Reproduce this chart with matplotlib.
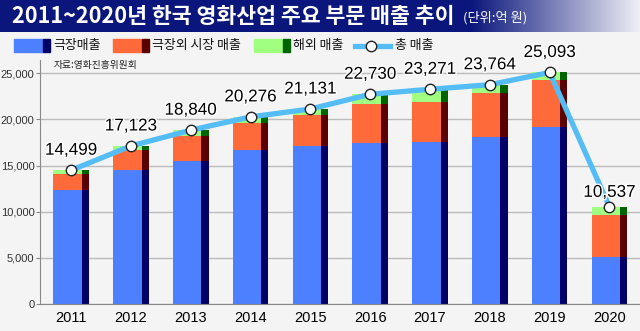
import matplotlib
matplotlib.use("Agg")
import matplotlib.pyplot as plt
import matplotlib.patheffects as pe
import numpy as np
from matplotlib.patches import Rectangle
from matplotlib.lines import Line2D

# data (억 원)
years = ["2011", "2012", "2013", "2014", "2015", "2016", "2017", "2018", "2019", "2020"]
theater = [12358, 14551, 15513, 16641, 17154, 17432, 17566, 18140, 19140, 5104]
non_theater = [1709, 2109, 2676, 2971, 3349, 4226, 4348, 4738, 5093, 4593]
overseas = [432, 463, 651, 664, 628, 1072, 1357, 886, 860, 840]
total = [14499, 17123, 18840, 20276, 21131, 22730, 23271, 23764, 25093, 10537]

legend_names = ["극장매출", "극장외 시장 매출", "해외 매출", "총 매출"]
title = "2011~2020년 한국 영화산업 주요 부문 매출 추이"
unit = "(단위:억 원)"
source = "자료:영화진흥위원회"

KR = ["Noto Sans CJK KR", "DejaVu Sans"]
NUM = ["Liberation Sans", "DejaVu Sans"]

light = ["#4d80ff", "#ff6a3a", "#a0ff80"]
dark = ["#000066", "#5a0000", "#006400"]
line_c = "#55bdf5"
bg = "#f4f4f4"

W, H = 640, 331
fig = plt.figure(figsize=(6.4, 3.31), dpi=100, facecolor=bg)

def fx(px):
    return px / W

def fy(py):
    return 1 - py / H

# title bar with gradient
tax = fig.add_axes([0, fy(32), 1, 32 / H])
navy = np.array([10, 22, 124]) / 255
white = np.array([240, 240, 246]) / 255
cols = np.arange(W)
t = np.clip((cols - 470) / 170, 0, 1)
grad = navy[None, :] * (1 - t[:, None]) + white[None, :] * t[:, None]
tax.imshow(grad[None, :, :], aspect="auto", extent=[0, 1, 0, 1])
tax.axis("off")
fig.text(fx(12), fy(16.5), title, color="white", fontsize=15.6, fontweight="bold",
         family=KR, va="center", ha="left")
fig.text(fx(463), fy(18), unit, color="white", fontsize=9.5, family=KR,
         va="center", ha="left")

# main axes
ax = fig.add_axes([fx(40), fy(304), fx(600), 244 / H])
ax.set_facecolor(bg)
x = np.arange(len(years))
stacks = [theater, non_theater, overseas]
bottom = np.zeros(len(years))
for vals, lc, dc in zip(stacks, light, dark):
    ax.bar(x - 0.298, vals, width=0.476, bottom=bottom, align="edge", color=lc, zorder=2)
    ax.bar(x + 0.178, vals, width=0.12, bottom=bottom, align="edge", color=dc, zorder=2)
    bottom += np.array(vals)

ax.plot(x, total, color=line_c, lw=3.8, zorder=4, solid_capstyle="round")
ax.plot(x, total, "o", ms=7.5, mfc="white", mec="#222222", mew=1, zorder=5)
for i, v in enumerate(total):
    off = 5 if i == len(total) - 1 else 9
    ax.annotate(f"{v:,}", (x[i], v), xytext=(0, off), textcoords="offset points",
                ha="center", va="bottom", fontsize=12.3, family=NUM, color="black", zorder=6,
                path_effects=[pe.withStroke(linewidth=2, foreground="white")])

ax.set_xlim(-0.52, 9.51)
ax.set_ylim(0, 26442)
ax.set_yticks(range(0, 25001, 5000))
ax.set_yticklabels([f"{v:,}" for v in range(0, 25001, 5000)], fontsize=8, family=NUM, color="#333333")
ax.set_xticks(x)
ax.set_xticklabels(years, fontsize=10.5, family=NUM, color="black")
ax.tick_params(axis="y", length=3, color="#888888", pad=1)
ax.tick_params(axis="x", length=0, pad=5)
ax.grid(axis="y", color="#bbbbbb", lw=1, zorder=0)
ax.set_axisbelow(True)
for s in ["top", "right"]:
    ax.spines[s].set_visible(False)
for s in ["left", "bottom"]:
    ax.spines[s].set_color("#888888")

fig.text(fx(54), fy(65), source, fontsize=7, family=KR, color="#222222", va="center")

# legend
leg_y0, leg_y1 = 39, 52
leg_x = [14, 113, 254]
for lx, lc, dc, name in zip(leg_x, light, dark, legend_names[:3]):
    fig.add_artist(Rectangle((fx(lx), fy(leg_y1)), fx(29), (leg_y1 - leg_y0) / H,
                             transform=fig.transFigure, color=lc))
    fig.add_artist(Rectangle((fx(lx + 29), fy(leg_y1)), fx(7), (leg_y1 - leg_y0) / H,
                             transform=fig.transFigure, color=dc))
    fig.text(fx(lx + 39), fy(45.5), name, fontsize=9.3, family=KR, va="center", color="#111111")
fig.add_artist(Line2D([fx(355), fx(390)], [fy(45.5), fy(45.5)], transform=fig.transFigure,
                      color=line_c, lw=3.8))
fig.add_artist(Line2D([fx(371)], [fy(45.5)], transform=fig.transFigure, marker="o", ms=7.5,
                      mfc="white", mec="#222222", mew=1, ls="none"))
fig.text(fx(395), fy(45.5), legend_names[3], fontsize=9.3, family=KR, va="center", color="#111111")

fig.savefig("out.png", dpi=100, facecolor=bg)
